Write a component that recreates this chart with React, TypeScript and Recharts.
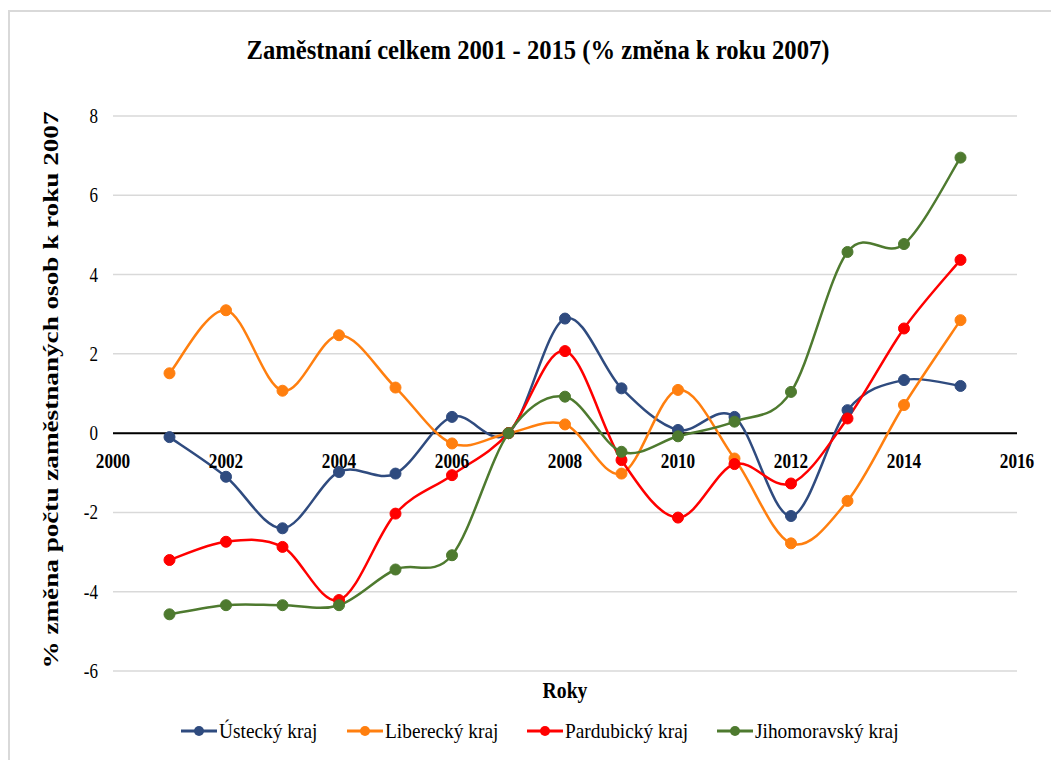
import React from "react";
import {
  LineChart,
  Line,
  XAxis,
  YAxis,
  CartesianGrid,
  ReferenceLine,
  ReferenceDot,
  Legend,
} from "recharts";

const years = [2001, 2002, 2003, 2004, 2005, 2006, 2007, 2008, 2009, 2010, 2011, 2012, 2013, 2014, 2015];
const usti = [-0.1, -1.1, -2.4, -0.98, -1.02, 0.41, 0, 2.89, 1.13, 0.08, 0.41, -2.09, 0.58, 1.34, 1.19];
const liberec = [1.51, 3.1, 1.07, 2.47, 1.15, -0.26, 0, 0.22, -1.02, 1.09, -0.64, -2.78, -1.71, 0.71, 2.85];
const pardubice = [-3.2, -2.74, -2.87, -4.21, -2.03, -1.06, 0, 2.07, -0.68, -2.13, -0.78, -1.27, 0.37, 2.64, 4.37];
const jihomoravsky = [-4.57, -4.34, -4.34, -4.34, -3.44, -3.08, 0, 0.92, -0.47, -0.08, 0.29, 1.04, 4.57, 4.77, 6.95];

const xTicks = [2000, 2002, 2004, 2006, 2008, 2010, 2012, 2014, 2016];
const yTicks = [-6, -4, -2, 0, 2, 4, 6, 8];

const seriesNames = ["Ústecký kraj", "Liberecký kraj", "Pardubický kraj", "Jihomoravský kraj"];
const seriesKeys = ["usti", "liberec", "pardubice", "jihomoravsky"];
const seriesColors = ["#2F4B7F", "#FF7F0F", "#FF0000", "#4E7A2F"];

const title = "Zaměstnaní  celkem 2001 - 2015 (% změna k roku 2007)";
const yLabel = "% změna počtu zaměstnaných osob k roku  2007";
const xLabel = "Roky";

const rows = years.map((y, i) => ({
  year: y,
  usti: usti[i],
  liberec: liberec[i],
  pardubice: pardubice[i],
  jihomoravsky: jihomoravsky[i],
}));

const FONT = "Liberation Serif";

// Excel-like smoothed line (Catmull-Rom style bezier with 1/6 tangents)
const excelSmooth = (context: any) => {
  let pts: number[][] = [];
  return {
    areaStart() {},
    areaEnd() {},
    lineStart() {
      pts = [];
    },
    point(x: number, y: number) {
      pts.push([+x, +y]);
    },
    lineEnd() {
      if (!pts.length) return;
      context.moveTo(pts[0][0], pts[0][1]);
      for (let i = 0; i < pts.length - 1; i++) {
        const p0 = pts[i - 1] || pts[i];
        const p1 = pts[i];
        const p2 = pts[i + 1];
        const p3 = pts[i + 2] || pts[i + 1];
        const c1x = p1[0] + (p2[0] - p0[0]) / 6;
        const c1y = p1[1] + (p2[1] - p0[1]) / 6;
        const c2x = p2[0] - (p3[0] - p1[0]) / 6;
        const c2y = p2[1] - (p3[1] - p1[1]) / 6;
        context.bezierCurveTo(c1x, c1y, c2x, c2y, p2[0], p2[1]);
      }
    },
  };
};

let measureCtx: CanvasRenderingContext2D | null = null;
const measure = (text: string, font: string) => {
  if (!measureCtx) measureCtx = document.createElement("canvas").getContext("2d");
  if (!measureCtx) return text.length * 9;
  measureCtx.font = font;
  return measureCtx.measureText(text).width;
};

const YTick = (props: any) => {
  const { x, y, payload } = props;
  return (
    <text
      transform={`translate(${x},${y}) scale(0.85,1)`}
      textAnchor="end"
      dy="0.35em"
      style={{ fontFamily: FONT }}
      fontSize={20}
      fill="#000"
    >
      {payload.value}
    </text>
  );
};

const XTickLabel = (props: any) => {
  const { viewBox, value } = props;
  const x = viewBox.x + viewBox.width / 2;
  const y = viewBox.y + viewBox.height / 2;
  return (
    <text
      transform={`translate(${x},${y + 35}) scale(0.82,1)`}
      textAnchor="middle"
      style={{ fontFamily: FONT }}
      fontWeight="bold"
      fontSize={21}
      fill="#000"
    >
      {value}
    </text>
  );
};

const LEG_FONT_SIZE = 22;
const LEG_SCALE = 0.88;

const LegendContent = (props: any) => {
  const { payload } = props;
  const items = seriesNames
    .map((n) => (payload || []).find((p: any) => p.value === n))
    .filter(Boolean);
  return (
    <div style={{ display: "flex", justifyContent: "center", alignItems: "center", gap: 29 }}>
      {items.map((p: any) => {
        const natural = measure(p.value, `${LEG_FONT_SIZE}px "${FONT}"`);
        const w = natural * LEG_SCALE;
        const extra = natural - w + 6;
        return (
          <svg
            key={p.value}
            width={38 + w + extra}
            height={30}
            overflow="visible"
            style={{ display: "block", marginRight: -extra, overflow: "visible" }}
          >
            <line x1={0} y1={14} x2={36} y2={14} stroke={p.color} strokeWidth={3} />
            <circle cx={18} cy={14} r={5} fill={p.color} />
            <text
              x={38}
              y={21}
              style={{ fontFamily: FONT }}
              fontSize={LEG_FONT_SIZE}
              textLength={w}
              lengthAdjust="spacingAndGlyphs"
              fill="#000"
            >
              {p.value}
            </text>
          </svg>
        );
      })}
    </div>
  );
};

export default function App() {
  return (
    <div
      style={{
        position: "absolute",
        left: 0,
        top: 0,
        width: 1051,
        height: 760,
        background: "#fff",
        overflow: "hidden",
        fontFamily: FONT,
      }}
    >
      <div
        style={{
          position: "absolute",
          left: 8,
          top: 10,
          width: 1100,
          height: 800,
          borderTop: "2px solid #d9d9d9",
          borderLeft: "2px solid #d9d9d9",
        }}
      />
      <div style={{ position: "absolute", left: 0, top: 0 }}>
        <LineChart
          width={1051}
          height={760}
          data={rows}
          margin={{ top: 116, right: 34, bottom: 89, left: 53 }}
        >
          <CartesianGrid horizontal vertical={false} stroke="#d9d9d9" strokeWidth={1.5} />
          <XAxis dataKey="year" type="number" domain={[2000, 2016]} ticks={xTicks} hide />
          <YAxis
            type="number"
            domain={[-6, 8]}
            ticks={yTicks}
            width={60}
            axisLine={false}
            tickLine={false}
            tickMargin={9}
            tick={<YTick />}
            interval={0}
          />
          <ReferenceLine y={0} stroke="#000" strokeWidth={2} />
          {xTicks.map((t) => (
            <ReferenceDot
              key={t}
              x={t}
              y={0}
              r={0}
              fill="none"
              stroke="none"
              label={{ value: String(t), content: XTickLabel }}
            />
          ))}
          {seriesKeys.map((k, i) => (
            <Line
              key={k}
              dataKey={k}
              name={seriesNames[i]}
              type={excelSmooth as any}
              stroke={seriesColors[i]}
              strokeWidth={2.5}
              dot={{ r: 5.5, fill: seriesColors[i], stroke: seriesColors[i], strokeWidth: 1 }}
              activeDot={false}
              isAnimationActive={false}
            />
          ))}
          <Legend
            verticalAlign="middle"
            layout="horizontal"
            align="center"
            content={<LegendContent />}
            wrapperStyle={{ top: 717, left: 0, width: 1080, height: 30 }}
          />
        </LineChart>
      </div>
      <svg
        width={1051}
        height={760}
        style={{ position: "absolute", left: 0, top: 0, pointerEvents: "none" }}
      >
        <text
          x={538}
          y={59}
          textAnchor="middle"
          style={{ fontFamily: FONT }}
          fontWeight="bold"
          fontSize={28}
          textLength={583}
          lengthAdjust="spacingAndGlyphs"
          fill="#000"
        >
          {title}
        </text>
        <text
          transform="translate(50,390) rotate(-90)"
          textAnchor="middle"
          dy="0.35em"
          style={{ fontFamily: FONT }}
          fontWeight="bold"
          fontSize={22}
          textLength={557}
          lengthAdjust="spacingAndGlyphs"
          fill="#000"
        >
          {yLabel}
        </text>
        <text
          transform="translate(565,698) scale(0.82,1)"
          textAnchor="middle"
          style={{ fontFamily: FONT }}
          fontWeight="bold"
          fontSize={24}
          fill="#000"
        >
          {xLabel}
        </text>
      </svg>
    </div>
  );
}
